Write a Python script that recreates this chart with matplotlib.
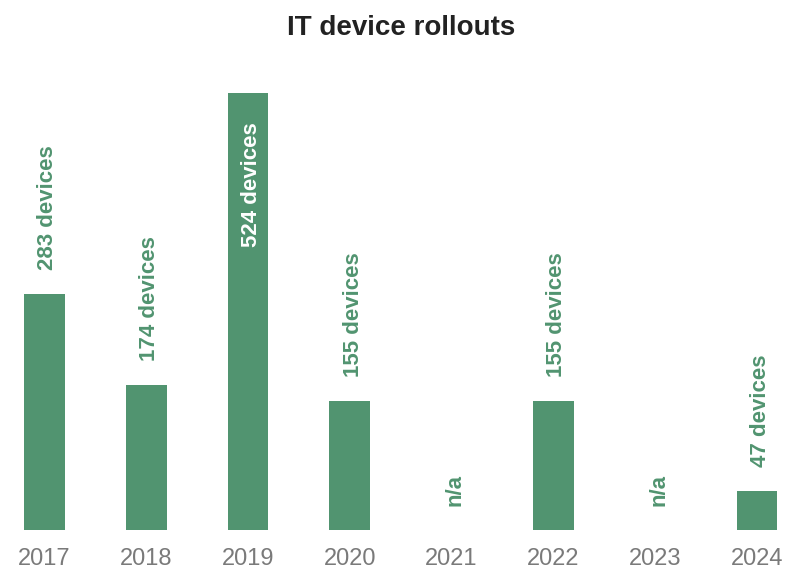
import matplotlib
matplotlib.use("Agg")
import matplotlib.pyplot as plt

# rollout counts per year (None = no data)
years = ["2017", "2018", "2019", "2020", "2021", "2022", "2023", "2024"]
devices = [283, 174, 524, 155, None, 155, None, 47]

green = "#519470"

fig = plt.figure(figsize=(7.92, 5.71), dpi=100)
ax = fig.add_axes([1.7 / 792, 41 / 571, 798 / 792, 467 / 571])

x = list(range(len(years)))
heights = [v if v is not None else 0 for v in devices]
ax.bar(x, heights, width=0.4, color=green, zorder=2)

ax.set_xlim(-0.42, 7.42)
ax.set_ylim(0, 560)

lbl = dict(rotation=90, ha="center", fontsize=16, fontweight="bold",
           family="Liberation Sans", textcoords="offset points")
for i, v in enumerate(devices):
    if v is None:
        ax.annotate("n/a", (i, 0), xytext=(2.5, 17), va="bottom", color=green, **lbl)
    elif v == max(heights):
        # tallest bar: label sits inside the bar
        ax.annotate(f"{v} devices", (i, v), xytext=(2.5, -21), va="top",
                    color="white", **lbl)
    else:
        ax.annotate(f"{v} devices", (i, v), xytext=(2.5, 17), va="bottom",
                    color=green, **lbl)

ax.set_xticks(x)
ax.set_xticklabels(years, color="#7a7a7a", fontsize=17, family="Liberation Sans")
ax.tick_params(axis="x", length=0, pad=13)
ax.set_yticks([])
for s in ax.spines.values():
    s.set_visible(False)

fig.text(401 / 792, 1 - 28 / 571, "IT device rollouts", ha="center", va="center",
         fontsize=20, fontweight="bold", color="#222222", family="Liberation Sans")

fig.savefig("out.png", dpi=100, facecolor="white")
